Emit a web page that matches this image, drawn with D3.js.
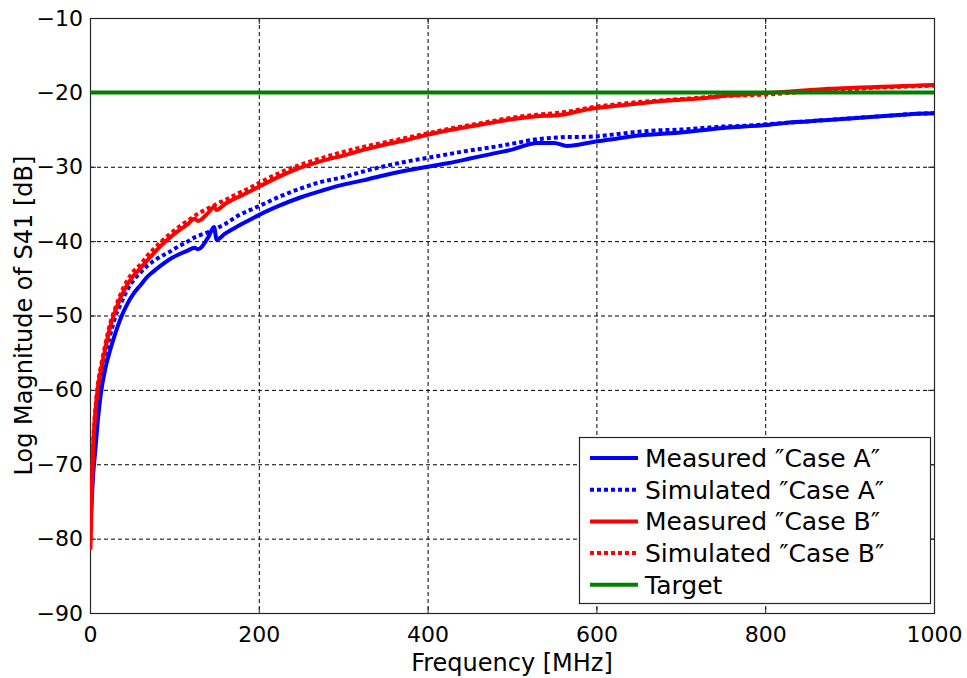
<!DOCTYPE html>
<html>
<head>
<meta charset="utf-8">
<script src="https://cdn.jsdelivr.net/npm/d3@7"></script>
<style>
  body { margin: 0; background: #fff; }
  svg { display: block; }
  text { font-family: "DejaVu Sans", sans-serif; fill: #000; }
</style>
</head>
<body>
<svg id="chart" width="967" height="678"></svg>
<script>
// frequency points (MHz), shared by all traces
var freq = [0.5, 2, 4, 6, 9, 13, 18, 24, 30, 37,
	44, 52, 60, 67, 75, 85, 95, 105, 115, 124,
	128, 140, 147, 150, 160, 175, 190, 200, 225, 250,
	275, 300, 325, 350, 375, 400, 425, 450, 475, 500,
	530, 550, 565, 580, 600, 625, 650, 675, 700, 725,
	750, 775, 800, 825, 850, 875, 900, 925, 950, 975, 1000];

var measuredA = [-78, -75, -71, -68.5, -64.5, -60.4, -57.2, -54.6, -52.4, -50.2,
	-48.5, -47.0, -45.9, -44.9, -44.1, -43.2, -42.4, -41.8, -41.3, -40.9,
	-41.1, -39.5, -38.1, -39.8, -39.0, -38.0, -37.1, -36.5, -35.2, -34.1,
	-33.2, -32.4, -31.8, -31.1, -30.5, -30.0, -29.5, -28.9, -28.3, -27.7,
	-26.8, -26.8, -27.2, -27.0, -26.6, -26.2, -25.8, -25.6, -25.4, -25.1,
	-24.8, -24.6, -24.4, -24.1, -23.9, -23.7, -23.5, -23.3, -23.1, -22.9, -22.8];

var simulatedA = [-76, -73, -69.5, -66.5, -62.5, -59.0, -55.5, -52.6, -50.2, -48.3,
	-46.6, -45.2, -44.2, -43.4, -42.7, -42.0, -41.4, -40.7, -40.1, -39.5,
	-39.3, -38.8, -38.5, -38.3, -37.7, -36.6, -35.8, -35.3, -34.0, -32.9,
	-32.0, -31.4, -30.6, -29.9, -29.3, -28.8, -28.3, -27.8, -27.4, -26.9,
	-26.3, -26.1, -26.0, -26.0, -25.9, -25.6, -25.3, -25.1, -25.0, -24.8,
	-24.6, -24.5, -24.3, -24.1, -23.9, -23.7, -23.5, -23.3, -23.1, -22.9, -22.8];

var measuredB = [-81.5, -74, -67, -63.5, -60, -57.3, -54.5, -51.5, -49.4, -47.4,
	-45.9, -44.6, -43.6, -42.7, -41.7, -40.5, -39.5, -38.6, -37.8, -37.0,
	-37.3, -36.2, -35.4, -35.8, -35.0, -34.1, -33.3, -32.7, -31.3, -30.1,
	-29.2, -28.5, -27.7, -27.0, -26.4, -25.7, -25.1, -24.6, -24.1, -23.6,
	-23.2, -23.1, -22.9, -22.5, -22.1, -21.8, -21.5, -21.2, -21.0, -20.8,
	-20.5, -20.3, -20.1, -19.9, -19.7, -19.5, -19.4, -19.3, -19.2, -19.1, -19.0];

var simulatedB = [-80, -73, -66.5, -63, -59.5, -56.8, -54.0, -51.0, -49.0, -46.9,
	-45.3, -44.0, -43.1, -42.1, -41.1, -40.0, -39.0, -38.1, -37.3, -36.6,
	-36.3, -35.6, -35.2, -35.0, -34.5, -33.6, -32.8, -32.2, -30.8, -29.7,
	-28.8, -28.0, -27.3, -26.7, -26.1, -25.5, -24.9, -24.4, -23.9, -23.4,
	-23.0, -22.8, -22.6, -22.3, -21.9, -21.6, -21.3, -21.1, -20.9, -20.7,
	-20.5, -20.4, -20.3, -20.1, -19.9, -19.7, -19.6, -19.4, -19.3, -19.2, -19.1];

var target = -20;

var xTicks = [0, 200, 400, 600, 800, 1000];
var yTicks = [-10, -20, -30, -40, -50, -60, -70, -80, -90];

var legendLabels = ["Measured \u2033Case A\u2033", "Simulated \u2033Case A\u2033",
	"Measured \u2033Case B\u2033", "Simulated \u2033Case B\u2033", "Target"];

var svg = d3.select("#chart"),
	MARGINS = { top: 18, right: 33, bottom: 65, left: 90 },
	WIDTH = 967,
	HEIGHT = 678,
	x = d3.scaleLinear()
		.domain([0, 1000])
		.range([MARGINS.left, WIDTH - MARGINS.right]),
	y = d3.scaleLinear()
		.domain([-90, -10])
		.range([HEIGHT - MARGINS.bottom, MARGINS.top]);

var pLeft = x(0), pRight = x(1000), pTop = y(-10), pBottom = y(-90);

// grid
var grid = svg.append("g")
	.attr("stroke", "#000")
	.attr("stroke-width", 1)
	.attr("stroke-dasharray", "4,3");
xTicks.slice(1, -1).forEach(function(t) {
	grid.append("line")
		.attr("x1", x(t) + 0.5).attr("x2", x(t) + 0.5)
		.attr("y1", pTop).attr("y2", pBottom);
});
yTicks.slice(1, -1).forEach(function(t) {
	grid.append("line")
		.attr("x1", pLeft).attr("x2", pRight)
		.attr("y1", y(t) + 0.5).attr("y2", y(t) + 0.5);
});

// axes, ticks pointing inward like matlab
var fmt = d3.format("d");
svg.append("g")
	.attr("transform", "translate(0," + pBottom + ")")
	.call(d3.axisBottom(x).tickValues(xTicks).tickFormat(fmt).tickSizeInner(-6).tickSizeOuter(0).tickPadding(13));
svg.append("g")
	.attr("transform", "translate(0," + pTop + ")")
	.call(d3.axisTop(x).tickValues(xTicks).tickSizeInner(-6).tickSizeOuter(0).tickFormat(""));
svg.append("g")
	.attr("transform", "translate(" + pLeft + ",0)")
	.call(d3.axisLeft(y).tickValues(yTicks).tickFormat(fmt).tickSizeInner(-6).tickSizeOuter(0).tickPadding(7));
svg.append("g")
	.attr("transform", "translate(" + pRight + ",0)")
	.call(d3.axisRight(y).tickValues(yTicks).tickSizeInner(-6).tickSizeOuter(0).tickFormat(""));

svg.selectAll(".domain").remove();
svg.selectAll(".tick line").attr("stroke", "#262626");
svg.selectAll(".tick text").attr("font-size", 22).attr("fill", "#000")
	.attr("font-family", "DejaVu Sans");

svg.append("rect")
	.attr("x", pLeft + 0.5).attr("y", pTop + 0.5)
	.attr("width", pRight - pLeft).attr("height", pBottom - pTop)
	.attr("fill", "none").attr("stroke", "#262626").attr("stroke-width", 1.2);

svg.append("clipPath").attr("id", "plotclip")
	.append("rect")
	.attr("x", pLeft).attr("y", pTop)
	.attr("width", pRight - pLeft).attr("height", pBottom - pTop);

var lineGen = function(vals) {
	return d3.line()
		.curve(d3.curveMonotoneX)
		.x(function(d, i) { return x(freq[i]); })
		.y(function(d) { return y(d); })(vals);
};

var series = [
	{ vals: measuredA, color: "#0000ff", dash: null },
	{ vals: simulatedA, color: "#0000ff", dash: "4,3" },
	{ vals: measuredB, color: "#ff0000", dash: null },
	{ vals: simulatedB, color: "#ff0000", dash: "4,3" },
	{ vals: freq.map(function() { return target; }), color: "#008000", dash: null }
];

var plot = svg.append("g").attr("clip-path", "url(#plotclip)");
series.forEach(function(s) {
	plot.append("path")
		.attr("d", lineGen(s.vals))
		.attr("fill", "none")
		.attr("stroke", s.color)
		.attr("stroke-width", 4)
		.attr("stroke-dasharray", s.dash)
		.attr("stroke-linejoin", "round");
});

// legend
var lg = svg.append("g").attr("transform", "translate(579,437)");
lg.append("rect")
	.attr("x", 0.5).attr("y", 0.5)
	.attr("width", 351).attr("height", 166)
	.attr("fill", "#fff").attr("stroke", "#262626").attr("stroke-width", 1.2);
legendLabels.forEach(function(lab, i) {
	var cy = 21 + i * 31.7;
	lg.append("line")
		.attr("x1", 11).attr("x2", 59)
		.attr("y1", cy).attr("y2", cy)
		.attr("stroke", series[i].color)
		.attr("stroke-width", 4)
		.attr("stroke-dasharray", series[i].dash);
	lg.append("text")
		.attr("x", 66).attr("y", cy)
		.attr("dy", "0.36em")
		.attr("font-size", 25)
		.text(lab);
});

// axis titles
svg.append("text")
	.attr("x", (pLeft + pRight) / 2).attr("y", 671)
	.attr("text-anchor", "middle")
	.attr("font-size", 24)
	.text("Frequency [MHz]");
svg.append("text")
	.attr("transform", "translate(32," + ((pTop + pBottom) / 2) + ") rotate(-90)")
	.attr("text-anchor", "middle")
	.attr("font-size", 24)
	.text("Log Magnitude of S41 [dB]");
</script>
</body>
</html>
